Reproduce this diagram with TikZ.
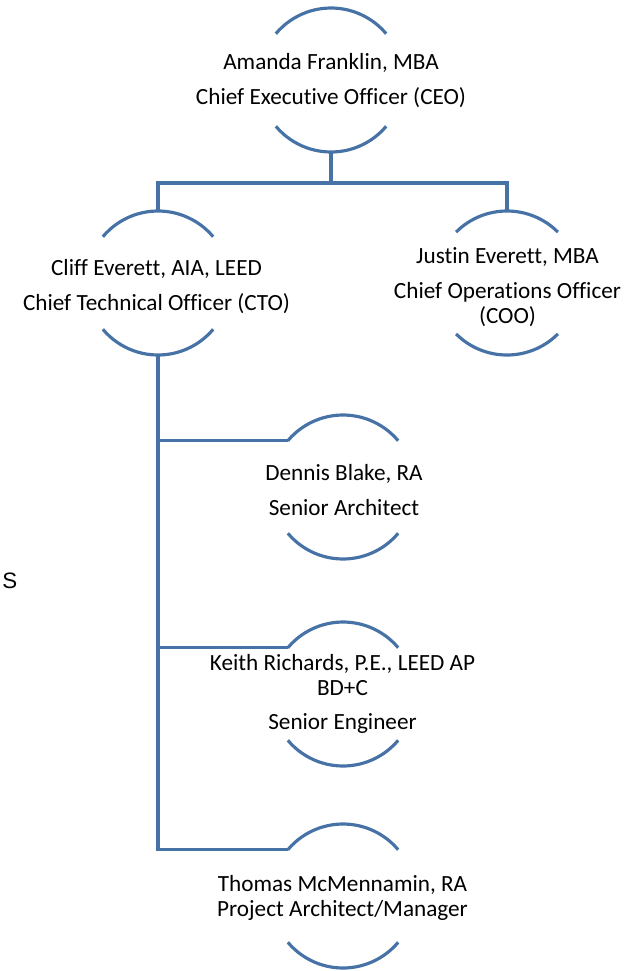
\documentclass[tikz,border=0pt]{standalone}
\usepackage{fontspec}
\setmainfont{Carlito}[Ligatures=NoCommon]
\newfontfamily\arialfont{Liberation Sans}
\usepackage{tikz}
\usetikzlibrary{positioning,calc}
\definecolor{OrgBlue}{RGB}{70,114,166}
\tikzset{
    person/.style={circle, minimum size=2.88cm, inner sep=0pt, outer sep=0pt},
    who/.style={align=center, inner sep=0pt, font=\fontsize{13.2}{14.2}\selectfont},
    bracketline/.style={draw=OrgBlue, line width=1.8pt},
    link/.style={draw=OrgBlue, line width=1.8pt}
}

\begin{document}
\begin{tikzpicture}
    \useasboundingbox (0,0) rectangle (12.64,-19.42);
    % members
    \node[person] (ceo) at (6.62,-1.60) {};
    \node[person] (cto) at (3.16,-5.66) {};
    \node[person] (coo) at (10.14,-5.66) {};
    \node[person] (dennis) at (6.86,-9.74) {};
    \node[person] (keith) at (6.86,-13.88) {};
    \node[person] (thomas) at (6.86,-17.92) {};
    % names and titles
    \node[who] (ceotext) at (6.62,-1.61) {Amanda Franklin, MBA\\[5.6pt]Chief Executive Officer (CEO)};
    \node[who] (ctotext) at (3.13,-5.73) {Cliff Everett, AIA, LEED\\[5.6pt]Chief Technical Officer (CTO)};
    \node[who] (cootext) at (10.15,-5.74) {Justin Everett, MBA\\[5.6pt]Chief Operations Officer\\(COO)};
    \node[who] (dennistext) at (6.88,-9.80) {Dennis Blake, RA\\[5.6pt]Senior Architect};
    \node[who] (keithtext) at (6.85,-13.88) {Keith Richards, P.E., LEED AP\\BD+C\\[5.6pt]Senior Engineer};
    \node[who] (thomastext) at (6.85,-17.96) {Thomas McMennamin, RA\\Project Architect/Manager};
    \node[font=\arialfont\fontsize{12.7}{14}\selectfont, anchor=base west, inner sep=0pt] (cutoff) at (0.04,-11.76) {S};
    % open circles
    \foreach \n/\a/\b in {ceo/140/40, cto/140/40, coo/135/45, dennis/140/40, keith/140/40, thomas/140/40} {
        \draw[bracketline] (\n.\a) arc[start angle=\a, end angle=\b, radius=1.44cm];
        \draw[bracketline] (\n.{360-\a}) arc[start angle=360-\a, end angle=360-\b, radius=1.44cm];
    }
    % connectors
    \coordinate (split) at ($(ceo.south)+(0,-0.62)$);
    \draw[link] (ceo.south) -- (split);
    \draw[link] (cto.north) |- (split) -| (coo.north);
    \foreach \c in {dennis, keith, thomas} {
        \draw[link] (cto.south) |- (\c.140);
    }
\end{tikzpicture}
\end{document}
